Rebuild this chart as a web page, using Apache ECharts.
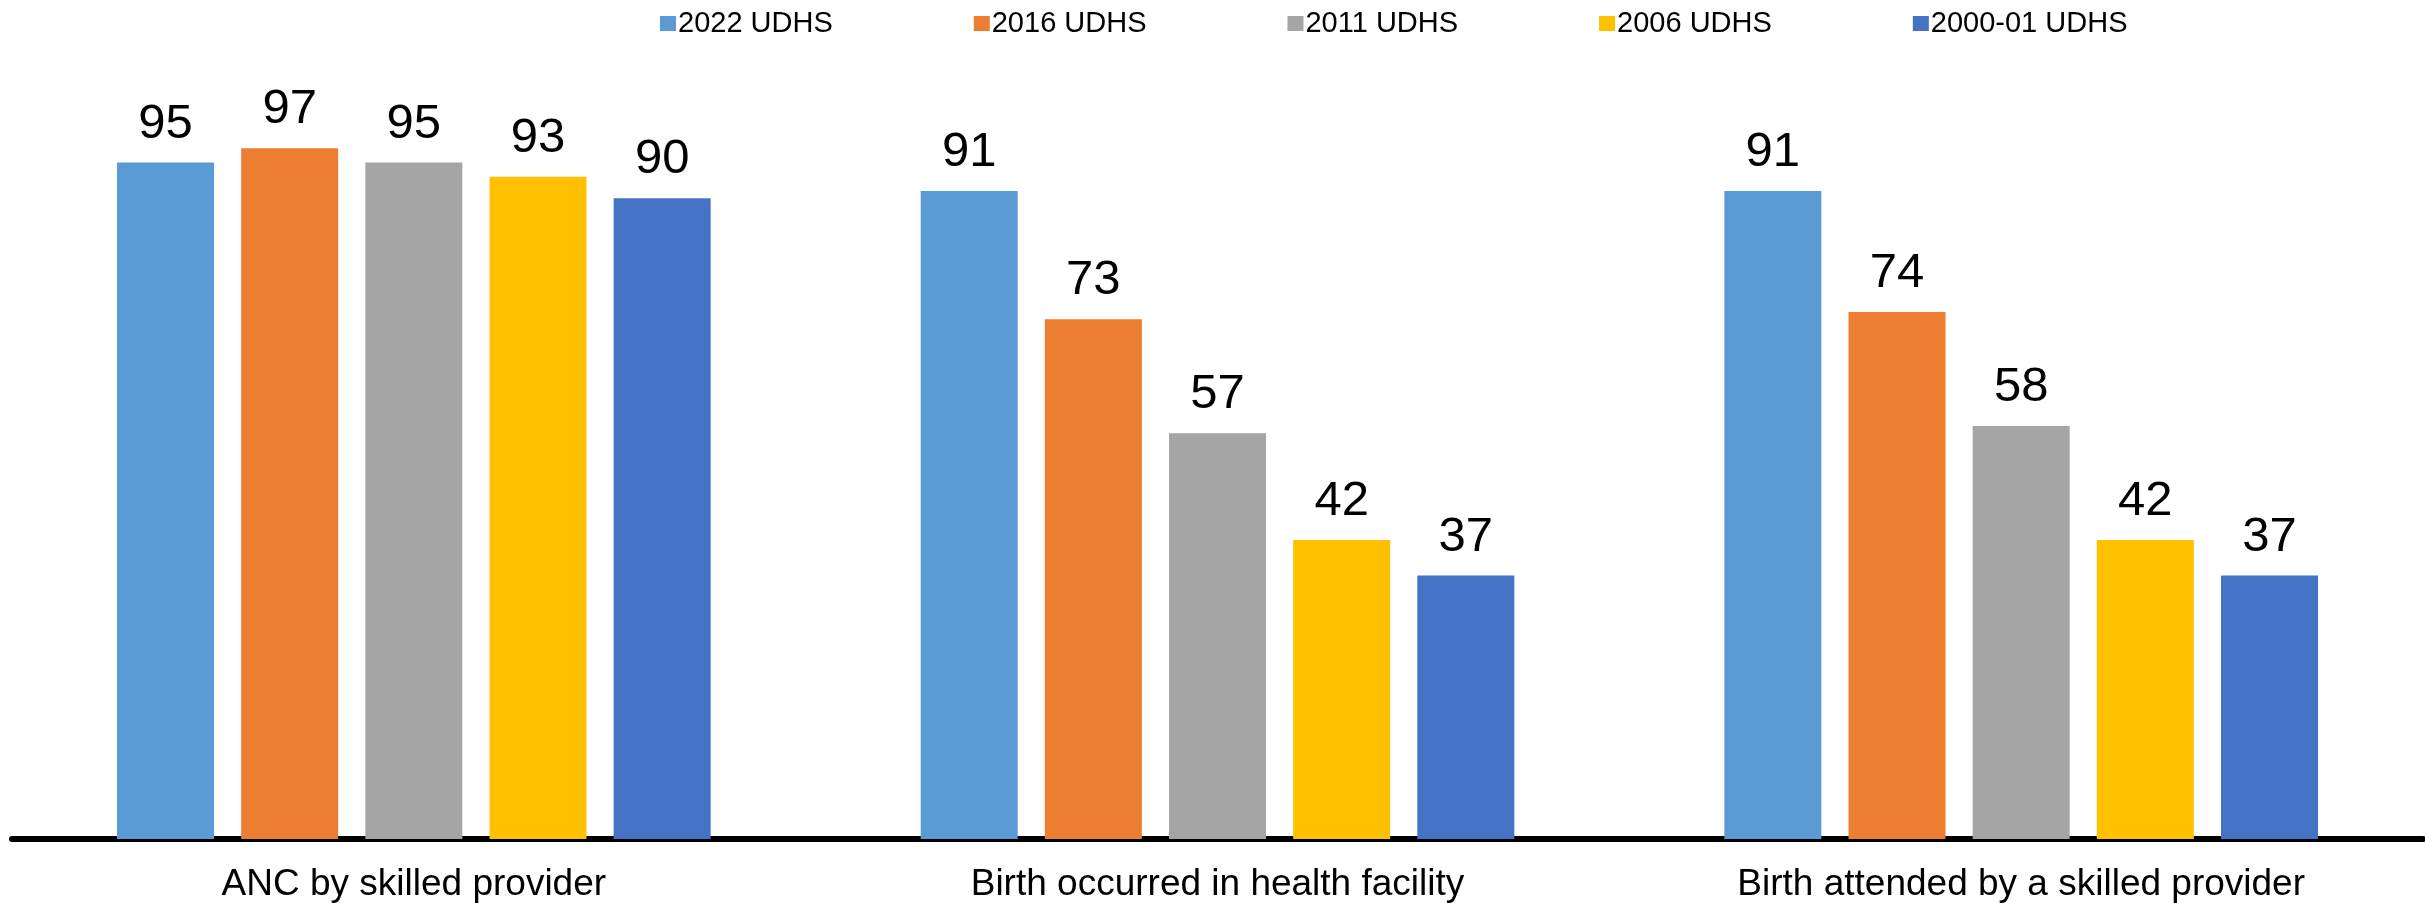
<!DOCTYPE html>
<html>
<head>
<meta charset="utf-8">
<title>UDHS maternal care</title>
<script src="https://cdn.jsdelivr.net/npm/echarts@6/dist/echarts.min.js"></script>
<style>
	html,body{margin:0;padding:0;background:#fff;}
	#main{width:2425px;height:903px;}
</style>
</head>
<body>
<div id="main"></div>
<script>
// categories along the x axis
var categories=['ANC by skilled provider','Birth occurred in health facility','Birth attended by a skilled provider'];
// survey rounds (legend order)
var surveys=['2022 UDHS','2016 UDHS','2011 UDHS','2006 UDHS','2000-01 UDHS'];
// values per survey, one per category
var udhs2022=[95,91,91];
var udhs2016=[97,73,74];
var udhs2011=[95,57,58];
var udhs2006=[93,42,42];
var udhs2000=[90,37,37];
var colors=['#5B9BD5','#ED7D31','#A5A5A5','#FFC000','#4472C4'];

var font='"Liberation Sans", Arial, sans-serif';
var values=[udhs2022,udhs2016,udhs2011,udhs2006,udhs2000];

var series=[];
for(var i=0;i<surveys.length;i++){
	series.push({
		name:surveys[i],
		type:'bar',
		data:values[i],
		barWidth:97,
		barGap:'28%',
		itemStyle:{color:colors[i]},
		label:{
			show:true,
			position:'top',
			distance:14,
			color:'#000',
			fontFamily:font,
			fontSize:49
		}
	});
}

var myChart=echarts.init(document.getElementById('main'));
var option={
	animation:false,
	color:colors,
	legend:{
		data:surveys,
		top:4,
		left:655,
		itemWidth:16,
		itemHeight:15,
		itemGap:141,
		icon:'rect',
		textStyle:{fontFamily:font,fontSize:29,color:'#000',padding:[0,0,0,-3]}
	},
	grid:{left:12,right:2,top:127,bottom:64,containLabel:false},
	xAxis:{
		type:'category',
		data:categories,
		axisLine:{show:true,lineStyle:{color:'#000',width:6}},
		axisTick:{show:false},
		axisLabel:{fontFamily:font,fontSize:37,color:'#000',margin:27}
	},
	yAxis:{
		type:'value',
		min:0,
		max:100,
		show:false,
		splitLine:{show:false}
	},
	series:series
};
myChart.setOption(option);
</script>
</body>
</html>
